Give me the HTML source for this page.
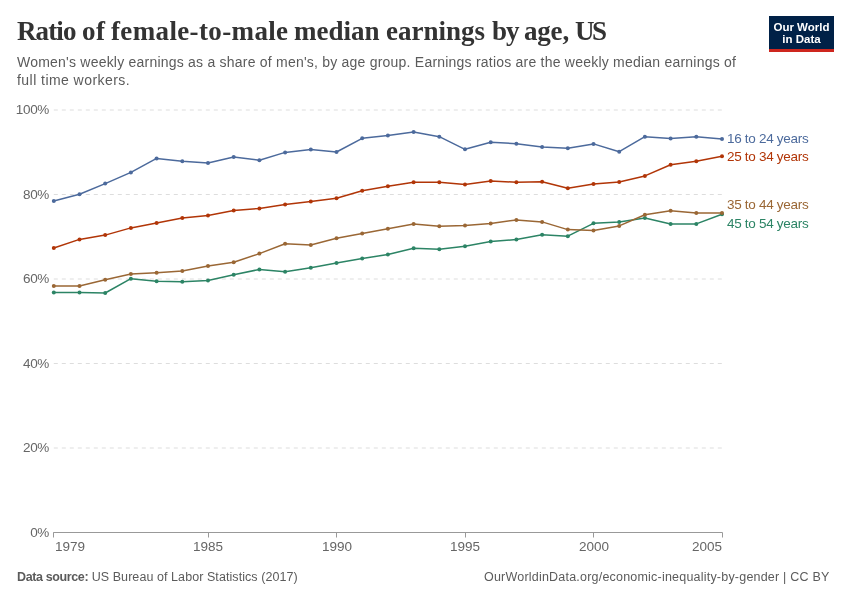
<!DOCTYPE html>
<html><head><meta charset="utf-8"><style>
html,body{margin:0;padding:0;background:#fff;}
body{width:850px;height:600px;position:relative;overflow:hidden;font-family:"Liberation Sans",sans-serif;}
.t,.st,.yl,.xl,.lg,.ft,.logo{will-change:transform;}
.t{position:absolute;top:10.8px;font-family:"Liberation Serif",serif;font-weight:bold;font-size:27px;color:#333;white-space:nowrap;line-height:40px;}
.st{position:absolute;left:17px;top:52.5px;font-size:14px;color:#5b5b5b;line-height:18px;white-space:nowrap;}
.logo{position:absolute;left:769px;top:16px;width:65px;height:36px;background:#002147;}
.logo .bar{position:absolute;left:0;bottom:0;width:65px;height:3px;background:#ce261e;}
.logo .tx{position:absolute;left:0;top:5.2px;width:65px;text-align:center;color:#fff;font-weight:bold;font-size:11.5px;line-height:12.3px;letter-spacing:0px;}
svg{position:absolute;left:0;top:0;}
.yl{position:absolute;left:0;width:49px;text-align:right;font-size:13.5px;letter-spacing:-0.35px;line-height:15px;color:#666;}
.xl{position:absolute;top:538.6px;font-size:13.5px;line-height:15px;color:#666;}
.lg{position:absolute;left:726.5px;font-size:13.5px;letter-spacing:-0.3px;line-height:15px;white-space:nowrap;}
.ft{position:absolute;top:569px;font-size:12.5px;line-height:16px;color:#5b5b5b;white-space:nowrap;}
</style></head><body>
<div class="t" style="left:17.2px;letter-spacing:-0.9px">Ratio</div><div class="t" style="left:82.1px;letter-spacing:0.5px">of</div><div class="t" style="left:111.3px;letter-spacing:0.36px">female-to-male</div><div class="t" style="left:294.4px;letter-spacing:0px">median</div><div class="t" style="left:386.3px;letter-spacing:0px">earnings</div><div class="t" style="left:492.4px;letter-spacing:-1.0px">by</div><div class="t" style="left:524.2px;letter-spacing:-0.2px">age,</div><div class="t" style="left:575.2px;letter-spacing:-2.5px">US</div>
<div class="st"><span style="letter-spacing:0.22px">Women's weekly earnings as a share of men's, by age group. Earnings ratios are the weekly median earnings of</span><br><span style="letter-spacing:0.45px">full time workers.</span></div>
<div class="logo"><div class="tx">Our World<br>in Data</div><div class="bar"></div></div>
<svg width="850" height="600" viewBox="0 0 850 600">
<line x1="53.8" y1="448.0" x2="722.0" y2="448.0" stroke="#dddddd" stroke-width="1" stroke-dasharray="4,4"/>
<line x1="53.8" y1="363.5" x2="722.0" y2="363.5" stroke="#dddddd" stroke-width="1" stroke-dasharray="4,4"/>
<line x1="53.8" y1="279.0" x2="722.0" y2="279.0" stroke="#dddddd" stroke-width="1" stroke-dasharray="4,4"/>
<line x1="53.8" y1="194.5" x2="722.0" y2="194.5" stroke="#dddddd" stroke-width="1" stroke-dasharray="4,4"/>
<line x1="53.8" y1="110.0" x2="722.0" y2="110.0" stroke="#dddddd" stroke-width="1" stroke-dasharray="4,4"/>
<line x1="53.3" y1="532.5" x2="722.5" y2="532.5" stroke="#999999" stroke-width="1"/>
<line x1="53.5" y1="532.5" x2="53.5" y2="537.5" stroke="#999999" stroke-width="1"/>
<line x1="208.5" y1="532.5" x2="208.5" y2="537.5" stroke="#999999" stroke-width="1"/>
<line x1="336.5" y1="532.5" x2="336.5" y2="537.5" stroke="#999999" stroke-width="1"/>
<line x1="465.5" y1="532.5" x2="465.5" y2="537.5" stroke="#999999" stroke-width="1"/>
<line x1="593.5" y1="532.5" x2="593.5" y2="537.5" stroke="#999999" stroke-width="1"/>
<line x1="722.5" y1="532.5" x2="722.5" y2="537.5" stroke="#999999" stroke-width="1"/>
<polyline points="53.8,292.5 79.5,292.5 105.2,293.0 130.9,278.7 156.6,281.3 182.3,281.8 208.0,280.4 233.7,274.8 259.4,269.4 285.1,271.7 310.8,267.7 336.5,263.0 362.2,258.4 387.9,254.5 413.6,248.2 439.3,249.2 465.0,246.3 490.7,241.5 516.4,239.5 542.1,234.7 567.8,236.2 593.5,223.3 619.2,221.9 644.9,217.9 670.6,223.9 696.3,223.9 722.0,214.3" fill="none" stroke="#2C8465" stroke-width="1.5" stroke-linejoin="round"/>
<circle cx="53.8" cy="292.5" r="2.0" fill="#2C8465"/>
<circle cx="79.5" cy="292.5" r="2.0" fill="#2C8465"/>
<circle cx="105.2" cy="293.0" r="2.0" fill="#2C8465"/>
<circle cx="130.9" cy="278.7" r="2.0" fill="#2C8465"/>
<circle cx="156.6" cy="281.3" r="2.0" fill="#2C8465"/>
<circle cx="182.3" cy="281.8" r="2.0" fill="#2C8465"/>
<circle cx="208.0" cy="280.4" r="2.0" fill="#2C8465"/>
<circle cx="233.7" cy="274.8" r="2.0" fill="#2C8465"/>
<circle cx="259.4" cy="269.4" r="2.0" fill="#2C8465"/>
<circle cx="285.1" cy="271.7" r="2.0" fill="#2C8465"/>
<circle cx="310.8" cy="267.7" r="2.0" fill="#2C8465"/>
<circle cx="336.5" cy="263.0" r="2.0" fill="#2C8465"/>
<circle cx="362.2" cy="258.4" r="2.0" fill="#2C8465"/>
<circle cx="387.9" cy="254.5" r="2.0" fill="#2C8465"/>
<circle cx="413.6" cy="248.2" r="2.0" fill="#2C8465"/>
<circle cx="439.3" cy="249.2" r="2.0" fill="#2C8465"/>
<circle cx="465.0" cy="246.3" r="2.0" fill="#2C8465"/>
<circle cx="490.7" cy="241.5" r="2.0" fill="#2C8465"/>
<circle cx="516.4" cy="239.5" r="2.0" fill="#2C8465"/>
<circle cx="542.1" cy="234.7" r="2.0" fill="#2C8465"/>
<circle cx="567.8" cy="236.2" r="2.0" fill="#2C8465"/>
<circle cx="593.5" cy="223.3" r="2.0" fill="#2C8465"/>
<circle cx="619.2" cy="221.9" r="2.0" fill="#2C8465"/>
<circle cx="644.9" cy="217.9" r="2.0" fill="#2C8465"/>
<circle cx="670.6" cy="223.9" r="2.0" fill="#2C8465"/>
<circle cx="696.3" cy="223.9" r="2.0" fill="#2C8465"/>
<circle cx="722.0" cy="214.3" r="2.0" fill="#2C8465"/>
<polyline points="53.8,286.1 79.5,285.9 105.2,279.7 130.9,274.1 156.6,272.8 182.3,271.1 208.0,266.1 233.7,262.3 259.4,253.6 285.1,243.7 310.8,245.0 336.5,238.3 362.2,233.4 387.9,228.8 413.6,224.1 439.3,226.3 465.0,225.5 490.7,223.4 516.4,219.9 542.1,221.9 567.8,229.6 593.5,230.5 619.2,225.9 644.9,214.7 670.6,210.7 696.3,212.9 722.0,212.9" fill="none" stroke="#9A6735" stroke-width="1.5" stroke-linejoin="round"/>
<circle cx="53.8" cy="286.1" r="2.0" fill="#9A6735"/>
<circle cx="79.5" cy="285.9" r="2.0" fill="#9A6735"/>
<circle cx="105.2" cy="279.7" r="2.0" fill="#9A6735"/>
<circle cx="130.9" cy="274.1" r="2.0" fill="#9A6735"/>
<circle cx="156.6" cy="272.8" r="2.0" fill="#9A6735"/>
<circle cx="182.3" cy="271.1" r="2.0" fill="#9A6735"/>
<circle cx="208.0" cy="266.1" r="2.0" fill="#9A6735"/>
<circle cx="233.7" cy="262.3" r="2.0" fill="#9A6735"/>
<circle cx="259.4" cy="253.6" r="2.0" fill="#9A6735"/>
<circle cx="285.1" cy="243.7" r="2.0" fill="#9A6735"/>
<circle cx="310.8" cy="245.0" r="2.0" fill="#9A6735"/>
<circle cx="336.5" cy="238.3" r="2.0" fill="#9A6735"/>
<circle cx="362.2" cy="233.4" r="2.0" fill="#9A6735"/>
<circle cx="387.9" cy="228.8" r="2.0" fill="#9A6735"/>
<circle cx="413.6" cy="224.1" r="2.0" fill="#9A6735"/>
<circle cx="439.3" cy="226.3" r="2.0" fill="#9A6735"/>
<circle cx="465.0" cy="225.5" r="2.0" fill="#9A6735"/>
<circle cx="490.7" cy="223.4" r="2.0" fill="#9A6735"/>
<circle cx="516.4" cy="219.9" r="2.0" fill="#9A6735"/>
<circle cx="542.1" cy="221.9" r="2.0" fill="#9A6735"/>
<circle cx="567.8" cy="229.6" r="2.0" fill="#9A6735"/>
<circle cx="593.5" cy="230.5" r="2.0" fill="#9A6735"/>
<circle cx="619.2" cy="225.9" r="2.0" fill="#9A6735"/>
<circle cx="644.9" cy="214.7" r="2.0" fill="#9A6735"/>
<circle cx="670.6" cy="210.7" r="2.0" fill="#9A6735"/>
<circle cx="696.3" cy="212.9" r="2.0" fill="#9A6735"/>
<circle cx="722.0" cy="212.9" r="2.0" fill="#9A6735"/>
<polyline points="53.8,248.0 79.5,239.4 105.2,235.1 130.9,227.9 156.6,222.9 182.3,217.9 208.0,215.5 233.7,210.5 259.4,208.4 285.1,204.5 310.8,201.5 336.5,198.2 362.2,190.8 387.9,186.2 413.6,182.2 439.3,182.2 465.0,184.5 490.7,181.1 516.4,182.2 542.1,181.7 567.8,188.3 593.5,183.9 619.2,181.9 644.9,175.9 670.6,164.7 696.3,161.3 722.0,156.3" fill="none" stroke="#B13507" stroke-width="1.5" stroke-linejoin="round"/>
<circle cx="53.8" cy="248.0" r="2.0" fill="#B13507"/>
<circle cx="79.5" cy="239.4" r="2.0" fill="#B13507"/>
<circle cx="105.2" cy="235.1" r="2.0" fill="#B13507"/>
<circle cx="130.9" cy="227.9" r="2.0" fill="#B13507"/>
<circle cx="156.6" cy="222.9" r="2.0" fill="#B13507"/>
<circle cx="182.3" cy="217.9" r="2.0" fill="#B13507"/>
<circle cx="208.0" cy="215.5" r="2.0" fill="#B13507"/>
<circle cx="233.7" cy="210.5" r="2.0" fill="#B13507"/>
<circle cx="259.4" cy="208.4" r="2.0" fill="#B13507"/>
<circle cx="285.1" cy="204.5" r="2.0" fill="#B13507"/>
<circle cx="310.8" cy="201.5" r="2.0" fill="#B13507"/>
<circle cx="336.5" cy="198.2" r="2.0" fill="#B13507"/>
<circle cx="362.2" cy="190.8" r="2.0" fill="#B13507"/>
<circle cx="387.9" cy="186.2" r="2.0" fill="#B13507"/>
<circle cx="413.6" cy="182.2" r="2.0" fill="#B13507"/>
<circle cx="439.3" cy="182.2" r="2.0" fill="#B13507"/>
<circle cx="465.0" cy="184.5" r="2.0" fill="#B13507"/>
<circle cx="490.7" cy="181.1" r="2.0" fill="#B13507"/>
<circle cx="516.4" cy="182.2" r="2.0" fill="#B13507"/>
<circle cx="542.1" cy="181.7" r="2.0" fill="#B13507"/>
<circle cx="567.8" cy="188.3" r="2.0" fill="#B13507"/>
<circle cx="593.5" cy="183.9" r="2.0" fill="#B13507"/>
<circle cx="619.2" cy="181.9" r="2.0" fill="#B13507"/>
<circle cx="644.9" cy="175.9" r="2.0" fill="#B13507"/>
<circle cx="670.6" cy="164.7" r="2.0" fill="#B13507"/>
<circle cx="696.3" cy="161.3" r="2.0" fill="#B13507"/>
<circle cx="722.0" cy="156.3" r="2.0" fill="#B13507"/>
<polyline points="53.8,200.9 79.5,194.3 105.2,183.6 130.9,172.4 156.6,158.4 182.3,161.3 208.0,163.1 233.7,157.0 259.4,160.3 285.1,152.4 310.8,149.6 336.5,152.0 362.2,138.3 387.9,135.5 413.6,132.0 439.3,136.7 465.0,149.3 490.7,142.3 516.4,143.7 542.1,146.9 567.8,148.3 593.5,143.9 619.2,151.7 644.9,136.7 670.6,138.5 696.3,136.7 722.0,138.9" fill="none" stroke="#4C6A9C" stroke-width="1.5" stroke-linejoin="round"/>
<circle cx="53.8" cy="200.9" r="2.0" fill="#4C6A9C"/>
<circle cx="79.5" cy="194.3" r="2.0" fill="#4C6A9C"/>
<circle cx="105.2" cy="183.6" r="2.0" fill="#4C6A9C"/>
<circle cx="130.9" cy="172.4" r="2.0" fill="#4C6A9C"/>
<circle cx="156.6" cy="158.4" r="2.0" fill="#4C6A9C"/>
<circle cx="182.3" cy="161.3" r="2.0" fill="#4C6A9C"/>
<circle cx="208.0" cy="163.1" r="2.0" fill="#4C6A9C"/>
<circle cx="233.7" cy="157.0" r="2.0" fill="#4C6A9C"/>
<circle cx="259.4" cy="160.3" r="2.0" fill="#4C6A9C"/>
<circle cx="285.1" cy="152.4" r="2.0" fill="#4C6A9C"/>
<circle cx="310.8" cy="149.6" r="2.0" fill="#4C6A9C"/>
<circle cx="336.5" cy="152.0" r="2.0" fill="#4C6A9C"/>
<circle cx="362.2" cy="138.3" r="2.0" fill="#4C6A9C"/>
<circle cx="387.9" cy="135.5" r="2.0" fill="#4C6A9C"/>
<circle cx="413.6" cy="132.0" r="2.0" fill="#4C6A9C"/>
<circle cx="439.3" cy="136.7" r="2.0" fill="#4C6A9C"/>
<circle cx="465.0" cy="149.3" r="2.0" fill="#4C6A9C"/>
<circle cx="490.7" cy="142.3" r="2.0" fill="#4C6A9C"/>
<circle cx="516.4" cy="143.7" r="2.0" fill="#4C6A9C"/>
<circle cx="542.1" cy="146.9" r="2.0" fill="#4C6A9C"/>
<circle cx="567.8" cy="148.3" r="2.0" fill="#4C6A9C"/>
<circle cx="593.5" cy="143.9" r="2.0" fill="#4C6A9C"/>
<circle cx="619.2" cy="151.7" r="2.0" fill="#4C6A9C"/>
<circle cx="644.9" cy="136.7" r="2.0" fill="#4C6A9C"/>
<circle cx="670.6" cy="138.5" r="2.0" fill="#4C6A9C"/>
<circle cx="696.3" cy="136.7" r="2.0" fill="#4C6A9C"/>
<circle cx="722.0" cy="138.9" r="2.0" fill="#4C6A9C"/>
</svg>
<div class="yl" style="top:524.7px">0%</div><div class="yl" style="top:440.2px">20%</div><div class="yl" style="top:355.7px">40%</div><div class="yl" style="top:271.2px">60%</div><div class="yl" style="top:186.7px">80%</div><div class="yl" style="top:102.2px">100%</div>
<div class="xl" style="left:54.8px">1979</div><div class="xl" style="left:178.0px;width:60px;text-align:center">1985</div><div class="xl" style="left:306.5px;width:60px;text-align:center">1990</div><div class="xl" style="left:435.0px;width:60px;text-align:center">1995</div><div class="xl" style="left:563.5px;width:60px;text-align:center">2000</div><div class="xl" style="left:662.0px;width:60px;text-align:right">2005</div>
<div class="lg" style="top:130.9px;color:#4C6A9C">16 to 24 years</div><div class="lg" style="top:149.2px;color:#B13507">25 to 34 years</div><div class="lg" style="top:196.9px;color:#9A6735">35 to 44 years</div><div class="lg" style="top:216.1px;color:#2C8465">45 to 54 years</div>
<div class="ft" style="left:17px"><b style="letter-spacing:-0.38px">Data source:</b> <span style="letter-spacing:0.07px">US Bureau of Labor Statistics (2017)</span></div>
<div class="ft" style="right:21px;letter-spacing:0.21px">OurWorldinData.org/economic-inequality-by-gender | CC BY</div>
</body></html>
